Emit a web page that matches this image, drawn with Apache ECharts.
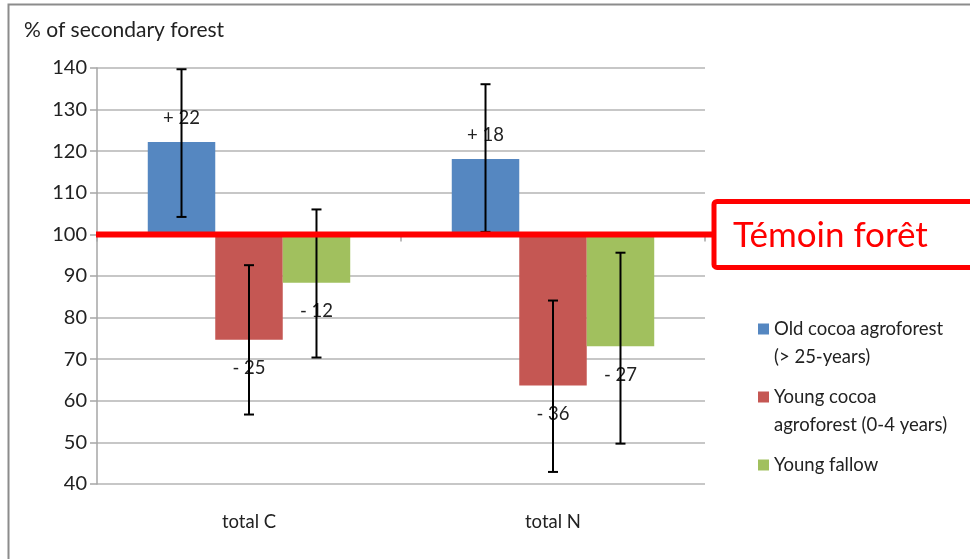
<!DOCTYPE html>
<html>
<head>
<meta charset="utf-8">
<script src="https://cdn.jsdelivr.net/npm/echarts@6/dist/echarts.min.js"></script>
<style>html,body{margin:0;padding:0;background:#fff}#c{width:970px;height:559px}</style>
</head>
<body>
<div id="c"></div>
<script>
var categories = ['total C', 'total N'];
var seriesNames = ['Old cocoa agroforest (> 25-years)', 'Young cocoa agroforest (0-4 years)', 'Young fallow'];
var legendLabels = ['\nOld cocoa agroforest\n(> 25-years)', '\nYoung cocoa\nagroforest (0-4 years)', 'Young fallow'];
var oldCocoa = [122.2, 118.1];
var youngCocoa = [74.7, 63.7];
var youngFallow = [88.4, 73.1];
var oldCocoaErr = [[104.2, 139.7], [100.6, 136.1]];
var youngCocoaErr = [[56.7, 92.6], [42.9, 84.1]];
var youngFallowErr = [[70.4, 106.0], [49.7, 95.6]];
var oldCocoaLabels = ['+ 22', '+ 18'];
var youngCocoaLabels = ['- 25', '- 36'];
var youngFallowLabels = ['- 12', '- 27'];
var yTicks = [40, 50, 60, 70, 80, 90, 100, 110, 120, 130, 140];
var reference = 100;
var refText = 'Témoin forêt';

var colors = ['#5587C1', '#C55753', '#A1C05E'];
var FONT = 'Lato';
var barCatGap = 0.334;

var values = [oldCocoa, youngCocoa, youngFallow];
var errs = [oldCocoaErr, youngCocoaErr, youngFallowErr];
var labels = [oldCocoaLabels, youngCocoaLabels, youngFallowLabels];

var chart = echarts.init(document.getElementById('c'));

var series = [];
values.forEach(function (vals, s) {
  series.push({
    name: seriesNames[s],
    type: 'bar',
    barGap: '0%',
    barCategoryGap: (barCatGap * 100) + '%',
    itemStyle: { color: colors[s] },
    z: 2,
    data: vals.map(function (v, i) {
      var d = +(v - reference).toFixed(2);
      return {
        value: d,
        label: {
          show: true,
          position: d >= 0 ? 'top' : 'bottom',
          distance: d >= 0 ? 15 : 19,
          formatter: labels[s][i],
          fontFamily: FONT,
          fontSize: 18.5,
          color: '#222'
        }
      };
    })
  });
});

var errData = [];
errs.forEach(function (arr, s) {
  arr.forEach(function (e, i) {
    errData.push([i, e[0] - reference, e[1] - reference, s]);
  });
});

series.push({
  type: 'custom',
  name: 'err',
  z: 5,
  renderItem: function (params, api) {
    var i = api.value(0);
    var s = api.value(3);
    var catW = api.size([1, 0])[0];
    var bw = catW * (1 - barCatGap) / 3;
    var lo = api.coord([i, api.value(1)]);
    var hi = api.coord([i, api.value(2)]);
    var x = lo[0] + (s - 1) * bw;
    var cap = 5;
    var st = { stroke: '#000', lineWidth: 2 };
    return {
      type: 'group',
      children: [
        { type: 'line', shape: { x1: x, y1: lo[1], x2: x, y2: hi[1] }, style: st },
        { type: 'line', shape: { x1: x - cap, y1: lo[1], x2: x + cap, y2: lo[1] }, style: st },
        { type: 'line', shape: { x1: x - cap, y1: hi[1], x2: x + cap, y2: hi[1] }, style: st }
      ]
    };
  },
  encode: { x: 0, y: [1, 2] },
  data: errData
});

series.push({
  type: 'custom',
  name: 'ref',
  z: 10,
  renderItem: function (params, api) {
    var catW = api.size([1, 0])[0];
    var p = api.coord([0, 0]);
    var x0 = p[0] - catW / 2 - 1;
    var y = p[1];
    var boxX = 714;
    return {
      type: 'group',
      children: [
        { type: 'line', shape: { x1: x0, y1: y, x2: boxX, y2: y }, style: { stroke: '#FF0000', lineWidth: 6 } },
        { type: 'rect', shape: { x: boxX, y: y - 33, width: 280, height: 66, r: 3 }, style: { fill: '#fff', stroke: '#FF0000', lineWidth: 5 } },
        { type: 'text', style: { x: boxX + 19, y: y + 1, text: refText, fill: '#FF0000', font: '35px ' + FONT, verticalAlign: 'middle', align: 'left' } }
      ]
    };
  },
  data: [[0, 0]]
});

function mkLegend(k, top) {
  return {
    data: [seriesNames[k]],
    left: 758,
    top: top,
    padding: 0,
    orient: 'vertical',
    icon: 'rect',
    itemWidth: 11,
    itemHeight: 11,
    selectedMode: false,
    formatter: function () { return legendLabels[k]; },
    textStyle: { fontFamily: FONT, fontSize: 18.5, lineHeight: 28, color: '#222' }
  };
}

var option = {
  animation: false,
  backgroundColor: '#fff',
  title: {
    text: '% of secondary forest',
    left: 19,
    top: 15,
    textStyle: { fontFamily: FONT, fontSize: 21, fontWeight: 'normal', color: '#222' }
  },
  legend: [mkLegend(0, 287), mkLegend(1, 355), mkLegend(2, 451)],
  grid: { left: 97, right: 265, top: 68, bottom: 75, containLabel: false, outerBoundsMode: 'none' },
  xAxis: [{
    type: 'category',
    data: categories,
    position: 'bottom',
    axisLine: { show: false, onZero: false },
    axisTick: { show: false },
    axisLabel: { margin: 29, fontFamily: FONT, fontSize: 18.5, color: '#222' },
    splitLine: { show: false }
  }, {
    type: 'category',
    data: categories,
    position: 'top',
    axisLine: { show: true, onZero: true, lineStyle: { color: '#a6a6a6', width: 1.5 } },
    axisTick: { show: true, inside: true, length: 7, lineStyle: { color: '#a6a6a6', width: 1.5 } },
    axisLabel: { show: false },
    splitLine: { show: false }
  }],
  yAxis: {
    type: 'value',
    min: yTicks[0] - reference,
    max: yTicks[yTicks.length - 1] - reference,
    interval: yTicks[1] - yTicks[0],
    axisLine: { show: true, lineStyle: { color: '#a6a6a6', width: 1.5 } },
    axisTick: { show: true, length: 7, lineStyle: { color: '#a6a6a6', width: 1.5 } },
    axisLabel: { margin: 10, fontFamily: FONT, fontSize: 20, color: '#222', formatter: function (v) { return String(v + reference); } },
    splitLine: { show: true, lineStyle: { color: '#b4b4b4', width: 1.5 } }
  },
  graphic: [
    { type: 'rect', x: 0, y: 0, z: -10, silent: true, shape: { x: 8.5, y: 4.5, width: 1000, height: 700 }, style: { fill: 'none', stroke: '#8c8c8c', lineWidth: 2 } }
  ],
  series: series
};
chart.setOption(option);
</script>
</body>
</html>
